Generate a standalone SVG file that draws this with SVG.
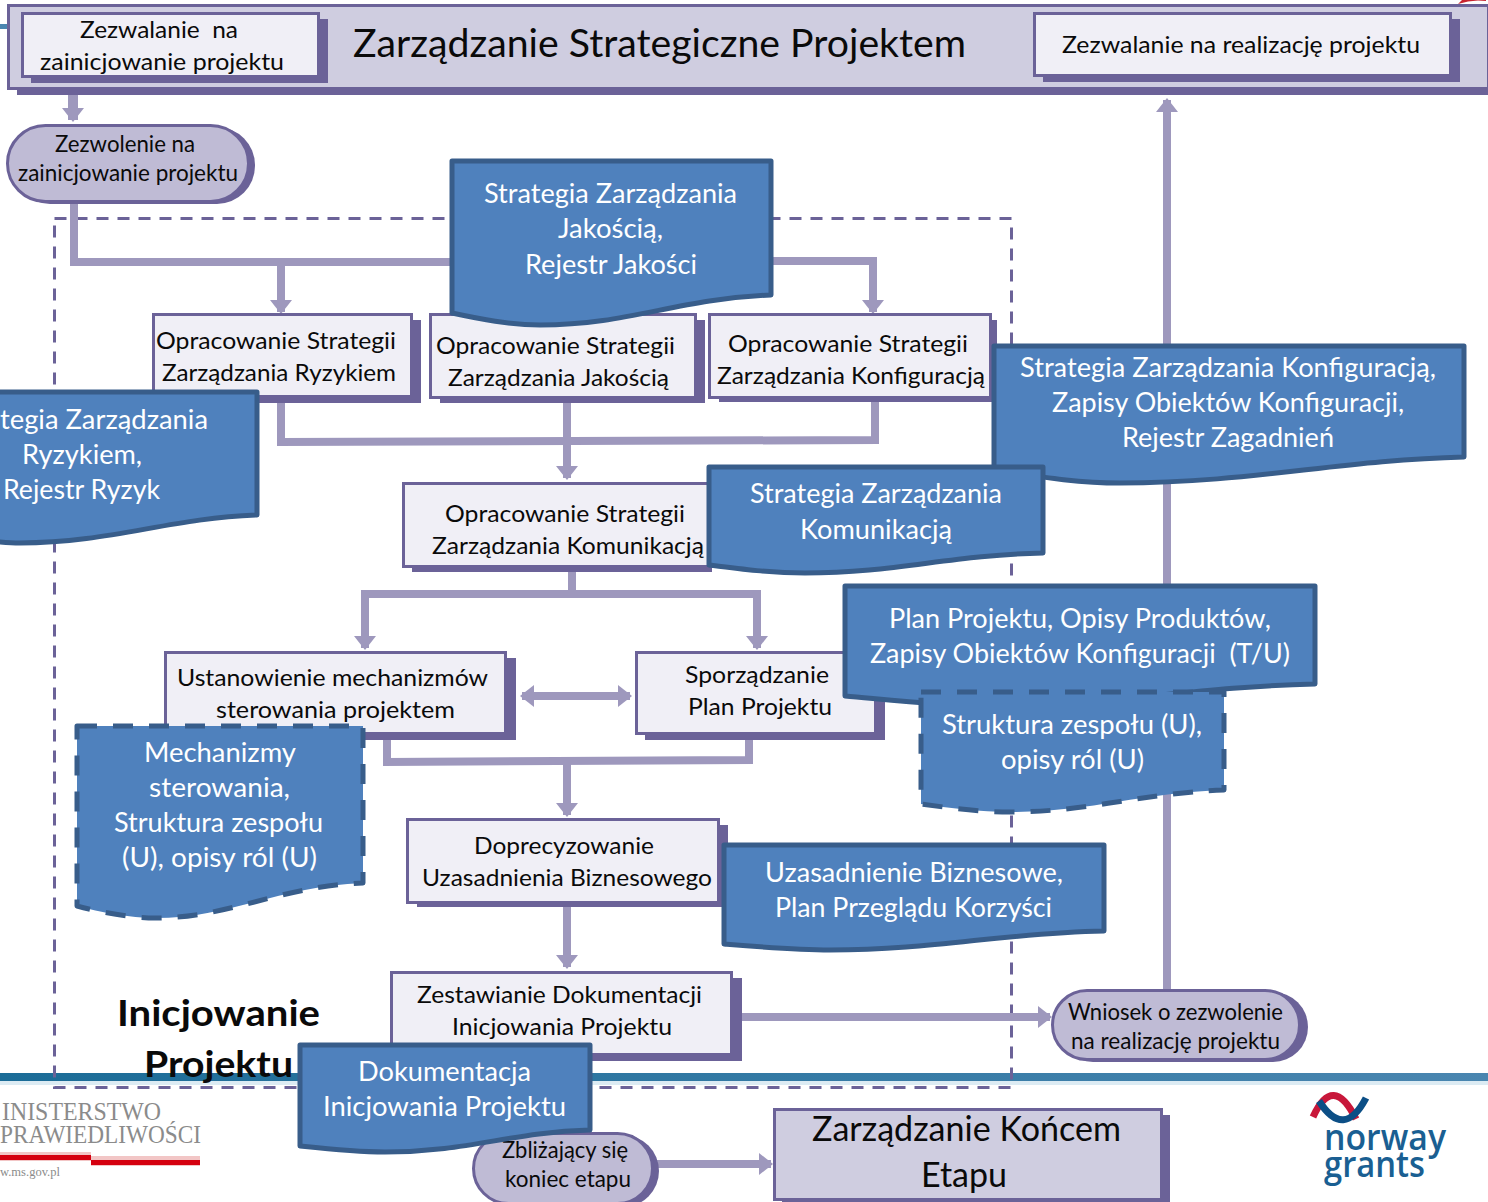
<svg xmlns="http://www.w3.org/2000/svg" width="1488" height="1202" viewBox="0 0 1488 1202">
<style>
text{font-family:Lato,"Open Sans","Liberation Sans",sans-serif;fill:#0a0a0a;font-size:24px;white-space:pre}
.w{fill:#fff;font-size:27px;transform:translateY(1px)}
.t{font-size:22.5px}
.big{font-size:39px}
.mid{font-size:34px}
.bold{font-weight:700;font-size:37px}
.shadow{fill:#6b6298}
.box{fill:#f0eff6;stroke:#6b6298;stroke-width:3}
.hdr{fill:#cfcde0;stroke:#6b6298;stroke-width:3}
.term{fill:#bfbbd5;stroke:#6b6298;stroke-width:3}
.doc{fill:#4f81bd;stroke:#385d8a;stroke-width:5;stroke-linejoin:round}
.dash{stroke-dasharray:20 16}
.c{fill:none;stroke:#9e98bd;stroke-width:8}
.frame{fill:none;stroke:#6b6298;stroke-width:3;stroke-dasharray:12 9}
.serif{font-family:"Liberation Serif",serif;fill:#8b8b8b}
</style>
<defs>
<marker id="a" markerUnits="userSpaceOnUse" markerWidth="22" markerHeight="22" refX="14" refY="11" orient="auto"><path d="M2 0L16 11L2 22Z" fill="#9e98bd"/></marker>
<marker id="b" markerUnits="userSpaceOnUse" markerWidth="22" markerHeight="22" refX="8" refY="11" orient="auto"><path d="M20 0L6 11L20 22Z" fill="#9e98bd"/></marker>
<linearGradient id="line" x1="0" x2="1" y1="0" y2="0"><stop offset="0" stop-color="#1b6c97"/><stop offset="1" stop-color="#4a86b0"/></linearGradient>
</defs>

<g id="background">
<rect x="0" y="1073" width="1488" height="8" fill="url(#line)"/>
<rect x="0" y="1081" width="1488" height="4" fill="#dcebf3"/>
<rect x="0" y="24" width="8" height="5" fill="#4a86b0"/>
<path d="M1458 4Q1472 -1 1486 1V0H1462Z" fill="#c8242f"/>
<text class="serif" x="2" y="1120" style="font-size:25px" textLength="159" lengthAdjust="spacingAndGlyphs">INISTERSTWO</text>
<text class="serif" x="0" y="1143" style="font-size:25px" textLength="201" lengthAdjust="spacingAndGlyphs">PRAWIEDLIWOŚCI</text>
<rect x="0" y="1152" width="91" height="9" fill="#f2c6c6"/>
<rect x="91" y="1156" width="109" height="10" fill="#f2c6c6"/>
<rect x="0" y="1155" width="91" height="5" fill="#d5000f"/>
<rect x="91" y="1160" width="109" height="5" fill="#d5000f"/>
<text class="serif" x="0" y="1176" style="font-size:12px" textLength="60" lengthAdjust="spacingAndGlyphs">w.ms.gov.pl</text>
<path d="M1313 1117Q1333 1073 1356 1119" fill="none" stroke="#c8173a" stroke-width="7"/>
<path d="M1319 1101Q1344 1140 1366 1098" fill="none" stroke="#0c4f86" stroke-width="7"/>
<text x="1324" y="1150" style="font-size:36px;fill:#1a5f92;font-family:'Open Sans',sans-serif;font-weight:600" textLength="122" lengthAdjust="spacingAndGlyphs">norway</text>
<text x="1324" y="1177" style="font-size:36px;fill:#1a5f92;font-family:'Open Sans',sans-serif;font-weight:600" textLength="101" lengthAdjust="spacingAndGlyphs">grants</text>
</g>

<rect id="phase-frame" class="frame" x="54.500" y="218.500" width="957" height="869"/>

<g id="connectors">
<path class="c" style="stroke-width:10" d="M73 94V120" marker-end="url(#a)"/>
<path class="c" d="M74 203V262H455"/>
<path class="c" d="M281 262V312" marker-end="url(#a)"/>
<path class="c" d="M770 261H873V312" marker-end="url(#a)"/>
<path class="c" d="M281 400V442L875 440V400"/>
<path class="c" d="M567 400V478" marker-end="url(#a)"/>
<path class="c" d="M572 570V594"/>
<path class="c" d="M365 594H757V648" marker-end="url(#a)"/>
<path class="c" d="M365 590V648" marker-end="url(#a)"/>
<path class="c" d="M522 696H630" marker-start="url(#b)" marker-end="url(#a)"/>
<path class="c" d="M387 738V762L749 760V735"/>
<path class="c" d="M567 762V815" marker-end="url(#a)"/>
<path class="c" d="M567 905V967" marker-end="url(#a)"/>
<path class="c" d="M740 1017H1050" marker-end="url(#a)"/>
<path class="c" d="M1167 992V100" marker-end="url(#a)"/>
<path class="c" d="M655 1164H771" marker-end="url(#a)"/>
</g>

<g id="header">
<rect class="shadow" x="17" y="12" width="1471" height="83"/>
<rect class="hdr" x="8.500" y="5.500" width="1480" height="83"/>
<text class="big" x="353" y="57" textLength="613" lengthAdjust="spacingAndGlyphs">Zarządzanie Strategiczne Projektem</text>
</g>
<g id="n-zezwalanie-start">
<rect class="shadow" x="31" y="19" width="297" height="64"/>
<rect class="box" x="22.500" y="13.500" width="296" height="63"/>
<text x="80" y="38" textLength="158" lengthAdjust="spacingAndGlyphs">Zezwalanie  na</text>
<text x="40" y="70" textLength="244" lengthAdjust="spacingAndGlyphs">zainicjowanie projektu</text>
</g>
<g id="n-zezwalanie-realizacja">
<rect class="shadow" x="1043" y="19" width="417" height="63"/>
<rect class="box" x="1034.500" y="13.500" width="416" height="62"/>
<text x="1062" y="53" textLength="358" lengthAdjust="spacingAndGlyphs">Zezwalanie na realizację projektu</text>
</g>
<g id="n-zezwolenie">
<rect class="shadow" x="12" y="127" width="243" height="77" rx="38"/>
<rect class="term" x="7.500" y="125.500" width="241" height="76" rx="38"/>
<text class="t" x="55" y="152" textLength="140" lengthAdjust="spacingAndGlyphs">Zezwolenie na</text>
<text class="t" x="18" y="181" textLength="220" lengthAdjust="spacingAndGlyphs">zainicjowanie projektu</text>
</g>

<g id="n-ryzyko">
<rect class="shadow" x="163" y="320" width="258" height="83"/>
<rect class="box" x="153.500" y="314.500" width="258" height="82"/>
<text x="156" y="349" textLength="240" lengthAdjust="spacingAndGlyphs">Opracowanie Strategii</text>
<text x="162" y="381" textLength="234" lengthAdjust="spacingAndGlyphs">Zarządzania Ryzykiem</text>
</g>
<g id="n-jakosc">
<rect class="shadow" x="440" y="320" width="265" height="83"/>
<rect class="box" x="430.500" y="314.500" width="265" height="83"/>
<text x="436" y="354" textLength="239" lengthAdjust="spacingAndGlyphs">Opracowanie Strategii</text>
<text x="448" y="386" textLength="221" lengthAdjust="spacingAndGlyphs">Zarządzania Jakością</text>
</g>
<g id="n-konfiguracja">
<rect class="shadow" x="719" y="320" width="278" height="82"/>
<rect class="box" x="709.500" y="314.500" width="281" height="83"/>
<text x="728" y="352" textLength="240" lengthAdjust="spacingAndGlyphs">Opracowanie Strategii</text>
<text x="717" y="384" textLength="268" lengthAdjust="spacingAndGlyphs">Zarządzania Konfiguracją</text>
</g>
<g id="doc-jakosc">
<path class="doc" d="M452 161H771V295C675 299 630 325 540 325C510 325 480 319 452 313Z"/>
<text class="w" x="484" y="202" textLength="253" lengthAdjust="spacingAndGlyphs">Strategia Zarządzania</text>
<text class="w" x="558" y="237" textLength="105" lengthAdjust="spacingAndGlyphs">Jakością,</text>
<text class="w" x="525" y="273" textLength="172" lengthAdjust="spacingAndGlyphs">Rejestr Jakości</text>
</g>
<g id="doc-ryzyko">
<path class="doc" d="M-10 392H257V515C170 518 110 543 20 543C8 543 0 542 -10 541Z"/>
<text class="w" x="0" y="428" textLength="208" lengthAdjust="spacingAndGlyphs">tegia Zarządzania</text>
<text class="w" x="22" y="463" textLength="120" lengthAdjust="spacingAndGlyphs">Ryzykiem,</text>
<text class="w" x="3" y="498" textLength="157" lengthAdjust="spacingAndGlyphs">Rejestr Ryzyk</text>
</g>
<g id="doc-konfiguracja">
<path class="doc" d="M994 346H1464V457C1340 460 1250 483 1120 483C1075 483 1035 476 994 470Z"/>
<text class="w" x="1020" y="376" textLength="416" lengthAdjust="spacingAndGlyphs">Strategia Zarządzania Konfiguracją,</text>
<text class="w" x="1052" y="411" textLength="352" lengthAdjust="spacingAndGlyphs">Zapisy Obiektów Konfiguracji,</text>
<text class="w" x="1122" y="446" textLength="212" lengthAdjust="spacingAndGlyphs">Rejestr Zagadnień</text>
</g>
<g id="n-komunikacja">
<rect class="shadow" x="412" y="489" width="300" height="83"/>
<rect class="box" x="403.500" y="483.500" width="309" height="83"/>
<text x="445" y="522" textLength="240" lengthAdjust="spacingAndGlyphs">Opracowanie Strategii</text>
<text x="432" y="554" textLength="272" lengthAdjust="spacingAndGlyphs">Zarządzania Komunikacją</text>
</g>
<g id="doc-komunikacja">
<path class="doc" d="M709 467H1043V553C950 555 895 573 805 573C770 573 740 569 709 565Z"/>
<text class="w" x="750" y="502" textLength="252" lengthAdjust="spacingAndGlyphs">Strategia Zarządzania</text>
<text class="w" x="800" y="538" textLength="152" lengthAdjust="spacingAndGlyphs">Komunikacją</text>
</g>
<g id="n-mechanizmy">
<rect class="shadow" x="175" y="658" width="341" height="82"/>
<rect class="box" x="165.500" y="652.500" width="340" height="81"/>
<text x="177" y="686" textLength="311" lengthAdjust="spacingAndGlyphs">Ustanowienie mechanizmów</text>
<text x="216" y="718" textLength="239" lengthAdjust="spacingAndGlyphs">sterowania projektem</text>
</g>
<g id="n-plan">
<rect class="shadow" x="645" y="658" width="240" height="82"/>
<rect class="box" x="636.500" y="652.500" width="239" height="81"/>
<text x="685" y="683" textLength="144" lengthAdjust="spacingAndGlyphs">Sporządzanie</text>
<text x="688" y="715" textLength="144" lengthAdjust="spacingAndGlyphs">Plan Projektu</text>
</g>
<g id="doc-plan">
<path class="doc" d="M845 586H1315V684C1190 687 1110 706 990 706C940 706 890 700 845 696Z"/>
<text class="w" x="889" y="627" textLength="382" lengthAdjust="spacingAndGlyphs">Plan Projektu, Opisy Produktów,</text>
<text class="w" x="870" y="662" textLength="420" lengthAdjust="spacingAndGlyphs">Zapisy Obiektów Konfiguracji  (T/U)</text>
</g>
<g id="doc-struktura">
<path class="doc dash" d="M921 692H1224V790C1140 793 1090 812 1010 812C980 812 950 808 921 804Z"/>
<text class="w" x="942" y="733" textLength="260" lengthAdjust="spacingAndGlyphs">Struktura zespołu (U),</text>
<text class="w" x="1001" y="768" textLength="143" lengthAdjust="spacingAndGlyphs">opisy ról (U)</text>
</g>
<g id="doc-mechanizmy">
<path class="doc dash" d="M77 726H363V883C280 886 230 918 155 918C130 918 100 912 77 906Z"/>
<text class="w" x="144" y="761" textLength="152" lengthAdjust="spacingAndGlyphs">Mechanizmy</text>
<text class="w" x="149" y="796" textLength="141" lengthAdjust="spacingAndGlyphs">sterowania,</text>
<text class="w" x="114" y="831" textLength="209" lengthAdjust="spacingAndGlyphs">Struktura zespołu</text>
<text class="w" x="122" y="866" textLength="195" lengthAdjust="spacingAndGlyphs">(U), opisy ról (U)</text>
</g>
<g id="n-uzasadnienie">
<rect class="shadow" x="417" y="825" width="311" height="82"/>
<rect class="box" x="407.500" y="819.500" width="311" height="83"/>
<text x="474" y="854" textLength="180" lengthAdjust="spacingAndGlyphs">Doprecyzowanie</text>
<text x="422" y="886" textLength="290" lengthAdjust="spacingAndGlyphs">Uzasadnienia Biznesowego</text>
</g>
<g id="doc-uzasadnienie">
<path class="doc" d="M724 845H1104V931C1000 933 935 950 830 950C795 950 760 947 724 944Z"/>
<text class="w" x="765" y="881" textLength="298" lengthAdjust="spacingAndGlyphs">Uzasadnienie Biznesowe,</text>
<text class="w" x="775" y="916" textLength="277" lengthAdjust="spacingAndGlyphs">Plan Przeglądu Korzyści</text>
</g>
<g id="n-zestawianie">
<rect class="shadow" x="401" y="978" width="341" height="83"/>
<rect class="box" x="391.500" y="972.500" width="340" height="82"/>
<text x="417" y="1003" textLength="285" lengthAdjust="spacingAndGlyphs">Zestawianie Dokumentacji</text>
<text x="452" y="1035" textLength="220" lengthAdjust="spacingAndGlyphs">Inicjowania Projektu</text>
</g>
<g id="n-wniosek">
<rect class="shadow" x="1058" y="992" width="250" height="70" rx="35"/>
<rect class="term" x="1052.500" y="990.500" width="247" height="69" rx="34.500"/>
<text class="t" x="1068" y="1020" textLength="215" lengthAdjust="spacingAndGlyphs">Wniosek o zezwolenie</text>
<text class="t" x="1071" y="1049" textLength="209" lengthAdjust="spacingAndGlyphs">na realizację projektu</text>
</g>
<g id="label-faza">
<text class="bold" x="117" y="1026" textLength="203" lengthAdjust="spacingAndGlyphs">Inicjowanie</text>
<text class="bold" x="144" y="1077" textLength="149" lengthAdjust="spacingAndGlyphs">Projektu</text>
</g>
<g id="n-koniec-etapu">
<rect class="shadow" x="477" y="1135" width="182" height="72" rx="36"/>
<rect class="term" x="473.500" y="1133.500" width="179" height="70" rx="35"/>
<text class="t" x="502" y="1158" textLength="126" lengthAdjust="spacingAndGlyphs">Zbliżający się</text>
<text class="t" x="505" y="1187" textLength="126" lengthAdjust="spacingAndGlyphs">koniec etapu</text>
</g>
<g id="doc-dokumentacja">
<path class="doc" d="M300 1045H590V1130C510 1132 470 1152 385 1152C355 1152 328 1149 300 1146Z"/>
<text class="w" x="358" y="1080" textLength="173" lengthAdjust="spacingAndGlyphs">Dokumentacja</text>
<text class="w" x="323" y="1115" textLength="243" lengthAdjust="spacingAndGlyphs">Inicjowania Projektu</text>
</g>
<g id="n-koniec">
<rect class="shadow" x="782" y="1115" width="388" height="90"/>
<rect class="hdr" x="774.500" y="1109.500" width="387" height="90"/>
<text class="mid" x="812" y="1141" textLength="309" lengthAdjust="spacingAndGlyphs">Zarządzanie Końcem</text>
<text class="mid" x="921" y="1187" textLength="86" lengthAdjust="spacingAndGlyphs">Etapu</text>
</g>
</svg>
